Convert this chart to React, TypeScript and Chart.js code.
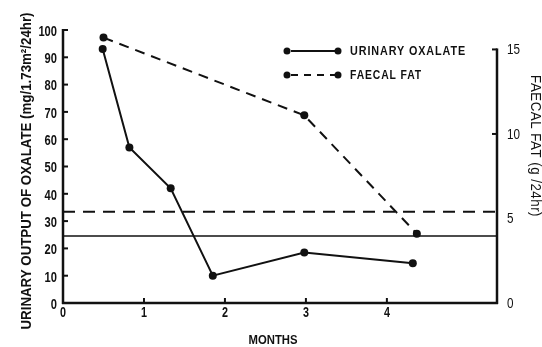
import React, { useEffect, useRef } from "react";
import { Chart, registerables } from "chart.js";
Chart.register(...registerables);

// ---- data ----
const oxalateMonths = [0.49, 0.82, 1.33, 1.85, 2.98, 4.32];
const oxalateValues = [93, 57, 42, 10, 18.5, 14.6];
const fatMonths = [0.5, 2.98, 4.37];
const fatValues = [15.7, 11.1, 4.1];
const oxalateNormal = 24.5;
const fatNormal = 5.4;
const xTicks = [0, 1, 2, 3, 4];
const leftTicks = [0, 10, 20, 30, 40, 50, 60, 70, 80, 90, 100];
const rightTicks = [0, 5, 10, 15];
const xMax = 5.36;
const rightMax = 16.15;

const leftTitle = "URINARY OUTPUT OF OXALATE (mg/1.73m\u00B2/24hr)";
const rightTitle = "FAECAL FAT (g /24hr)";
const xTitle = "MONTHS";
const legendLabels = ["URINARY OXALATE", "FAECAL FAT"];

const FONT = "'Liberation Sans', 'DejaVu Sans', sans-serif";
const INK = "#111";

const decorPlugin = {
  id: "decor",
  afterDraw(chart: any) {
    const { ctx, chartArea, scales } = chart;
    const { left, right, top, bottom } = chartArea;
    const line = (x1: number, y1: number, x2: number, y2: number) => {
      ctx.beginPath();
      ctx.moveTo(x1, y1);
      ctx.lineTo(x2, y2);
      ctx.stroke();
    };
    ctx.save();
    ctx.strokeStyle = INK;
    ctx.fillStyle = INK;
    ctx.lineCap = "butt";
    ctx.setLineDash([]);
    ctx.lineWidth = 2.5;
    line(left, top - 1, left, bottom + 1);
    line(left - 1, bottom, right + 1, bottom);
    const r15 = scales.y1.getPixelForValue(15);
    line(right, r15 - 1, right, bottom + 1);
    ctx.lineWidth = 2;
    leftTicks.forEach((v) => {
      if (v === 0) return;
      const y = scales.y.getPixelForValue(v);
      line(left, y, left + 5, y);
    });
    xTicks.forEach((v) => {
      if (v === 0) return;
      const x = scales.x.getPixelForValue(v);
      line(x, bottom, x, bottom - 5);
    });
    [10, 15].forEach((v) => {
      const y = scales.y1.getPixelForValue(v);
      line(right - 5, y, right, y);
    });

    // tick labels
    ctx.textBaseline = "middle";
    ctx.textAlign = "right";
    ctx.font = `bold 14px ${FONT}`;
    leftTicks.forEach((v) => {
      const s = String(v);
      ctx.fillText(s, 57, scales.y.getPixelForValue(v) + 2, 6.2 * s.length);
    });
    ctx.textAlign = "left";
    ctx.font = `14px ${FONT}`;
    rightTicks.forEach((v) => {
      const s = String(v);
      ctx.fillText(s, 507, scales.y1.getPixelForValue(v) + 1, 6.5 * s.length);
    });
    ctx.textAlign = "center";
    ctx.textBaseline = "top";
    ctx.font = `bold 14px ${FONT}`;
    xTicks.forEach((v) => {
      const s = String(v);
      ctx.fillText(s, scales.x.getPixelForValue(v), 306, 6 * s.length);
    });

    // titles
    ctx.textAlign = "center";
    ctx.textBaseline = "middle";
    ctx.font = `bold 14px ${FONT}`;
    ctx.save();
    ctx.translate(27, 171);
    ctx.rotate(-Math.PI / 2);
    ctx.fillText(leftTitle, 0, 0, 317);
    ctx.restore();
    ctx.save();
    ctx.translate(535, 146);
    ctx.rotate(Math.PI / 2);
    ctx.font = `14px ${FONT}`;
    (ctx as any).letterSpacing = "0.5px";
    ctx.fillText(rightTitle, 0, 0, 142);
    ctx.restore();
    ctx.font = `bold 13px ${FONT}`;
    ctx.fillText(xTitle, 273, 340, 49);

    // legend
    const rows = [
      { y: 51, dash: [] as number[], label: legendLabels[0], w: 116 },
      { y: 75, dash: [7, 6], label: legendLabels[1], w: 72 },
    ];
    rows.forEach((r) => {
      ctx.lineWidth = 2;
      ctx.setLineDash(r.dash);
      line(291, r.y, 335, r.y);
      ctx.setLineDash([]);
      [287, 338].forEach((x) => {
        ctx.beginPath();
        ctx.arc(x, r.y, 3.5, 0, Math.PI * 2);
        ctx.fill();
      });
      ctx.textAlign = "left";
      ctx.font = `bold 12px ${FONT}`;
      (ctx as any).letterSpacing = "1px";
      ctx.fillText(r.label, 350, r.y + 1, r.w);
      (ctx as any).letterSpacing = "0px";
    });
    ctx.restore();
  },
};

export default function App() {
  const ref = useRef<HTMLCanvasElement | null>(null);
  useEffect(() => {
    document.body.style.margin = "0";
    const canvas = ref.current;
    if (!canvas) return;
    const chart = new Chart(canvas, {
      type: "line",
      data: {
        datasets: [
          {
            label: legendLabels[0],
            data: oxalateMonths.map((m, i) => ({ x: m, y: oxalateValues[i] })),
            yAxisID: "y",
            borderColor: INK,
            backgroundColor: INK,
            borderWidth: 2,
            pointRadius: 4,
            pointBackgroundColor: INK,
            pointBorderWidth: 0,
            tension: 0,
          },
          {
            label: legendLabels[1],
            data: fatMonths.map((m, i) => ({ x: m, y: fatValues[i] })),
            yAxisID: "y1",
            borderColor: INK,
            backgroundColor: INK,
            borderWidth: 2,
            borderDash: [10, 7],
            pointRadius: 4,
            pointBackgroundColor: INK,
            pointBorderWidth: 0,
            tension: 0,
          },
          {
            label: "oxalate normal",
            data: [{ x: 0, y: oxalateNormal }, { x: xMax, y: oxalateNormal }],
            yAxisID: "y",
            borderColor: INK,
            borderWidth: 1.5,
            pointRadius: 0,
          },
          {
            label: "fat normal",
            data: [{ x: 0, y: fatNormal }, { x: xMax, y: fatNormal }],
            yAxisID: "y1",
            borderColor: INK,
            borderWidth: 2,
            borderDash: [12, 8],
            pointRadius: 0,
          },
        ],
      },
      options: {
        animation: false,
        responsive: true,
        maintainAspectRatio: false,
        layout: { padding: { top: 30, left: 0, right: 0, bottom: 0 } },
        plugins: { legend: { display: false }, tooltip: { enabled: false } },
        scales: {
          x: {
            type: "linear",
            min: 0,
            max: xMax,
            grid: { display: false, drawTicks: false },
            border: { display: false },
            afterBuildTicks: (s: any) => {
              s.ticks = xTicks.map((v) => ({ value: v }));
            },
            afterFit: (s: any) => {
              s.height = 44;
            },
            ticks: { display: false },
          },
          y: {
            type: "linear",
            position: "left",
            min: 0,
            max: 100,
            grid: { display: false, drawTicks: false },
            border: { display: false },
            afterBuildTicks: (s: any) => {
              s.ticks = leftTicks.map((v) => ({ value: v }));
            },
            afterFit: (s: any) => {
              s.width = 63;
            },
            ticks: { display: false },
          },
          y1: {
            type: "linear",
            position: "right",
            min: 0,
            max: rightMax,
            grid: { display: false, drawTicks: false },
            border: { display: false },
            afterBuildTicks: (s: any) => {
              s.ticks = rightTicks.map((v) => ({ value: v }));
            },
            afterFit: (s: any) => {
              s.width = 45;
            },
            ticks: { display: false },
          },
        },
      } as any,
      plugins: [decorPlugin],
    });
    return () => chart.destroy();
  }, []);
  return (
    <div style={{ width: 542, height: 347, position: "relative", background: "#fff" }}>
      <canvas ref={ref} />
    </div>
  );
}
